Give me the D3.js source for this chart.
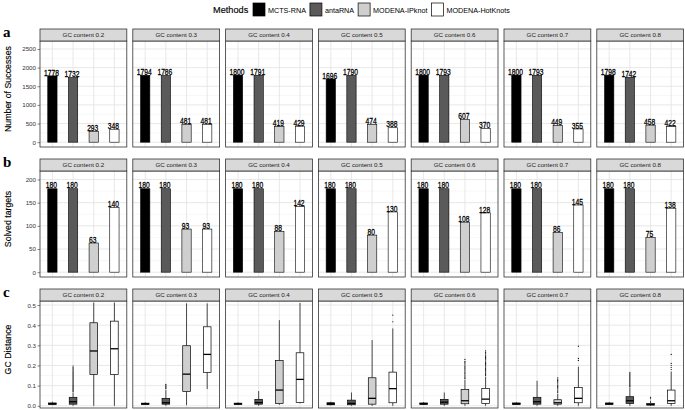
<!DOCTYPE html>
<html><head><meta charset="utf-8">
<script src="https://cdn.jsdelivr.net/npm/d3@7"></script>
<style>body{margin:0;background:#fff}svg{display:block}text{font-family:"Liberation Sans",Arial,sans-serif}</style>
</head><body><svg id="c" width="685" height="410"></svg>
<script>
// ---------------- DATA ----------------
const facets = ["0.2","0.3","0.4","0.5","0.6","0.7","0.8"];
const methods = ["MCTS-RNA","antaRNA","MODENA-IPknot","MODENA-HotKnots"];

// Panel a: Number of Successes
const successMCTS     = [1778,1794,1800,1696,1800,1800,1798];
const successAnta     = [1732,1786,1791,1790,1793,1793,1742];
const successIPknot   = [293,481,419,474,607,449,458];
const successHotKnots = [348,481,429,388,370,355,422];

// Panel b: Solved targets
const solvedMCTS     = [180,180,180,180,180,180,180];
const solvedAnta     = [180,180,180,180,180,180,180];
const solvedIPknot   = [63,93,88,80,108,86,75];
const solvedHotKnots = [140,93,142,130,128,145,138];

// Panel c: GC distance boxplots [lowWhisker, q1, median, q3, highWhisker]
const boxMCTS = [
  [0.003,0.007,0.010,0.014,0.020],[0.004,0.007,0.010,0.013,0.017],[0.004,0.007,0.010,0.013,0.017],
  [0.002,0.005,0.010,0.015,0.020],[0.004,0.007,0.010,0.014,0.018],[0.004,0.007,0.010,0.014,0.018],
  [0.004,0.007,0.010,0.014,0.018]];
const boxAnta = [
  [0.000,0.008,0.020,0.042,0.065],[0.000,0.008,0.015,0.037,0.078],[0.000,0.008,0.016,0.032,0.073],
  [0.000,0.005,0.012,0.028,0.066],[0.000,0.008,0.018,0.032,0.066],[0.000,0.008,0.020,0.042,0.124],
  [0.000,0.012,0.025,0.045,0.090]];
const boxIPknot = [
  [0.000,0.156,0.272,0.412,0.512],[0.003,0.071,0.157,0.298,0.508],[0.005,0.012,0.078,0.224,0.425],
  [0.000,0.008,0.037,0.139,0.326],[0.000,0.010,0.025,0.081,0.130],[0.000,0.008,0.015,0.030,0.060],
  [0.000,0.003,0.007,0.012,0.025]];
const boxHotKnots = [
  [0.000,0.155,0.283,0.420,0.512],[0.083,0.166,0.255,0.392,0.508],[0.012,0.017,0.131,0.263,0.510],
  [0.000,0.015,0.085,0.167,0.384],[0.000,0.012,0.033,0.086,0.144],[0.000,0.015,0.037,0.090,0.194],
  [0.000,0.012,0.025,0.078,0.170]];
// outliers
const outAnta = [
  [0.07,0.075,0.08,0.085,0.09,0.095,0.1,0.105,0.11,0.115,0.12,0.125,0.13,0.135,0.14,0.145,0.15,0.155,0.16,0.165,0.17,0.175,0.18,0.185,0.19,0.197],
  [0.085,0.09,0.095,0.1,0.106],[],[],[],[],
  [0.095,0.1,0.105,0.11,0.115,0.12,0.125,0.13,0.135,0.14,0.145,0.15,0.155,0.16,0.166]];
const outIPknot = [[],[],[],[],
  [0.136,0.142,0.148,0.154,0.16,0.166,0.172,0.178,0.184,0.19,0.196,0.202,0.208,0.214,0.22,0.23],
  [0.066,0.072,0.078,0.084,0.09,0.096,0.102,0.108,0.114,0.12,0.126,0.132,0.139],
  [0.035,0.042]];
const outHotKnots = [[],[],[],[0.417,0.45],
  [0.15,0.156,0.162,0.168,0.174,0.18,0.186,0.192,0.198,0.204,0.21,0.216,0.222,0.228,0.234,0.24,0.246,0.252,0.258,0.264,0.272],
  [0.225,0.235,0.296],
  [0.18,0.19,0.2,0.21,0.255]];

const ticksA = [0,500,1000,1500,2000,2500];
const ticksB = [0,50,100,150,200];
const ticksC = [0,0.1,0.2,0.3,0.4,0.5];
const minorA = [250,750,1250,1750,2250];
const minorB = [25,75,125,175];
const minorC = [0.05,0.15,0.25,0.35,0.45];

// ---------------- STYLE / LAYOUT ----------------
const fills = ["#000000","#5a5a5a","#cfcfcf","#ffffff"];
const svg = d3.select("#c");
const plotLeft = 40, facetW = 86.8, facetGap = 6;
const rows = [
  {label:"a", title:"Number of Successes", stripTop:29, top:41, bottom:147, domain:[-129,2714], ticks:ticksA, minor:minorA, fmt:d3.format("d")},
  {label:"b", title:"Solved targets", stripTop:159, top:171, bottom:277, domain:[-10.4,218.3], ticks:ticksB, minor:minorB, fmt:d3.format("d")},
  {label:"c", title:"GC Distance", stripTop:289, top:301, bottom:408, domain:[-0.011,0.52], ticks:ticksC, minor:minorC, fmt:d3.format(".1f")}
];
const barData = [
  [successMCTS,successAnta,successIPknot,successHotKnots],
  [solvedMCTS,solvedAnta,solvedIPknot,solvedHotKnots]
];
const boxData = [boxMCTS,boxAnta,boxIPknot,boxHotKnots];
const outData = [[],outAnta,outIPknot,outHotKnots];

const fx = d3.scaleBand().domain(facets).range([plotLeft, plotLeft + 7*facetW + 6*facetGap]).paddingInner(facetGap/(facetW+facetGap));

rows.forEach((row, ri) => {
  const y = d3.scaleLinear().domain(row.domain).range([row.bottom, row.top]);
  svg.append("text").attr("x",3).attr("y",row.stripTop+8).text(row.label)
    .style("font-family","'Liberation Serif',serif").style("font-weight","bold").style("font-size","15px");
  const cy = (row.stripTop + row.bottom)/2 + 1;
  svg.append("text").attr("transform",`translate(11,${cy}) rotate(-90)`).attr("text-anchor","middle")
    .style("font-size","8.8px").attr("fill","#000").attr("stroke","#000").attr("stroke-width",0.15).text(row.title);
  const ax = svg.append("g").attr("transform",`translate(${plotLeft},0)`)
    .call(d3.axisLeft(y).tickValues(row.ticks).tickSize(2.5).tickPadding(1.5).tickFormat(row.fmt));
  ax.select(".domain").remove();
  ax.selectAll(".tick line").attr("stroke","#333").attr("stroke-width",0.6);
  ax.selectAll(".tick text").style("font-size","6.2px").attr("fill","#333").style("font-family","'Liberation Sans',Arial,sans-serif");

  facets.forEach((f, fi) => {
    const x0 = fx(f), w = fx.bandwidth();
    const g = svg.append("g");
    const xp = d3.scalePoint().domain(methods).range([x0, x0+w]).padding(0.6);
    const step = xp.step();
    g.append("rect").attr("x",x0).attr("y",row.top).attr("width",w).attr("height",row.bottom-row.top).attr("fill","#fff");
    row.minor.forEach(v => g.append("line").attr("x1",x0).attr("x2",x0+w).attr("y1",y(v)).attr("y2",y(v)).attr("stroke","#efefef").attr("stroke-width",0.5));
    row.ticks.forEach(v => g.append("line").attr("x1",x0).attr("x2",x0+w).attr("y1",y(v)).attr("y2",y(v)).attr("stroke","#e2e2e2").attr("stroke-width",0.8));
    methods.forEach(m => g.append("line").attr("x1",xp(m)).attr("x2",xp(m)).attr("y1",row.top).attr("y2",row.bottom).attr("stroke","#e2e2e2").attr("stroke-width",0.8));

    if (ri < 2) {
      const bw = step*0.45;
      methods.forEach((m, mi) => {
        const v = barData[ri][mi][fi];
        g.append("rect").attr("x",xp(m)-bw/2).attr("y",y(v)).attr("width",bw).attr("height",y(0)-y(v))
          .attr("fill",fills[mi]).attr("stroke","#000").attr("stroke-width",0.6);
      });
      methods.forEach((m, mi) => {
        const v = barData[ri][mi][fi];
        g.append("text").attr("transform",`translate(${xp(m)-1},${y(v)-0.3}) scale(0.7,1)`).attr("text-anchor","middle")
          .style("font-size","9.6px").attr("fill","#000").attr("stroke","#000").attr("stroke-width",0.3).text(v);
      });
    } else {
      const bw = step*0.37;
      methods.forEach((m, mi) => {
        const [lo,q1,md,q3,hi] = boxData[mi][fi];
        const cx = xp(m);
        g.append("line").attr("x1",cx).attr("x2",cx).attr("y1",y(hi)).attr("y2",y(q3)).attr("stroke","#000").attr("stroke-width",0.7);
        g.append("line").attr("x1",cx).attr("x2",cx).attr("y1",y(q1)).attr("y2",y(lo)).attr("stroke","#000").attr("stroke-width",0.7);
        g.append("rect").attr("x",cx-bw/2).attr("y",y(q3)).attr("width",bw).attr("height",Math.max(0.1,y(q1)-y(q3)))
          .attr("fill",fills[mi]).attr("stroke","#000").attr("stroke-width",0.7);
        g.append("line").attr("x1",cx-bw/2).attr("x2",cx+bw/2).attr("y1",y(md)).attr("y2",y(md)).attr("stroke","#000").attr("stroke-width",1.3);
        (outData[mi][fi]||[]).forEach(o => g.append("circle").attr("cx",cx).attr("cy",y(o)).attr("r",0.6).attr("fill","#000"));
      });
    }
    g.append("rect").attr("x",x0).attr("y",row.top).attr("width",w).attr("height",row.bottom-row.top)
      .attr("fill","none").attr("stroke","#333").attr("stroke-width",0.8);
    g.append("rect").attr("x",x0).attr("y",row.stripTop).attr("width",w).attr("height",row.top-row.stripTop)
      .attr("fill","#d9d9d9").attr("stroke","#333").attr("stroke-width",0.8);
    g.append("text").attr("x",x0+w/2).attr("y",row.stripTop+(row.top-row.stripTop)/2+2.2).attr("text-anchor","middle")
      .style("font-size","6.2px").attr("fill","#1a1a1a").text("GC content " + f);
  });
});

// legend
const lg = svg.append("g");
lg.append("text").attr("x",213).attr("y",13).style("font-size","9.2px").attr("fill","#000").attr("stroke","#000").attr("stroke-width",0.15).text("Methods");
let lx = 253;
methods.forEach((m, mi) => {
  lg.append("rect").attr("x",lx).attr("y",3).attr("width",12).attr("height",13).attr("fill",fills[mi]).attr("stroke","#000").attr("stroke-width",0.7);
  const t = lg.append("text").attr("x",lx+15).attr("y",12.6).style("font-size","7.2px").attr("fill","#000").text(m);
  lx += 15 + t.node().getComputedTextLength() + 4;
});
</script></body></html>
